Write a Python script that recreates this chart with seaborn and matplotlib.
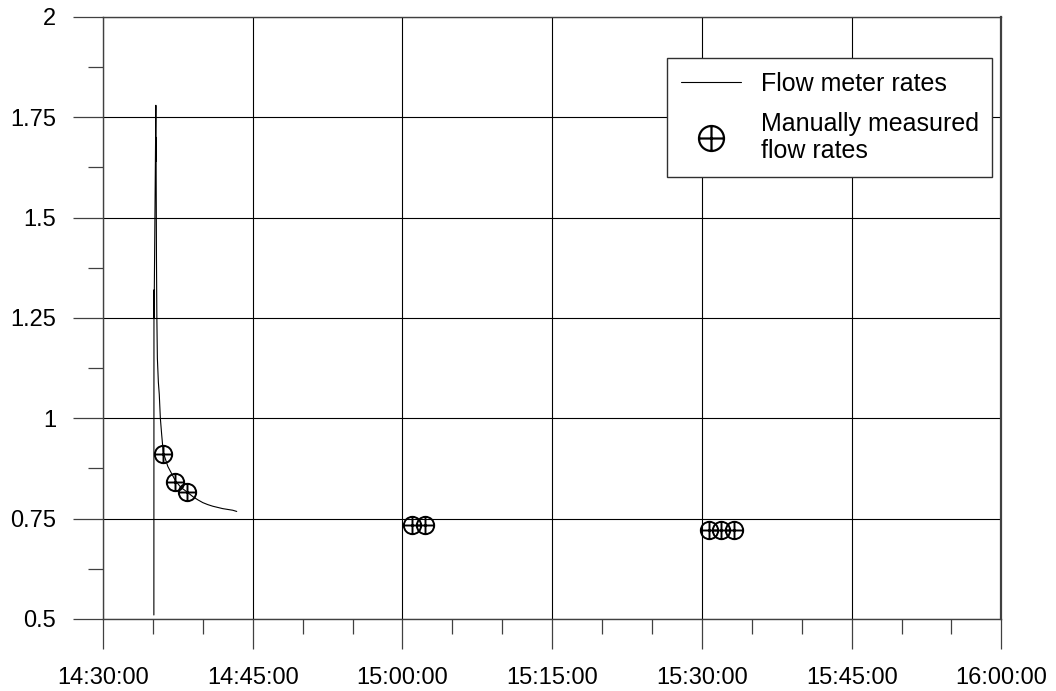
import matplotlib
matplotlib.use("Agg")
import matplotlib.pyplot as plt
import matplotlib.dates as mdates
from matplotlib.path import Path
from matplotlib.lines import Line2D
from matplotlib.ticker import MultipleLocator, FormatStrFormatter
import seaborn as sns
import pandas as pd

# Flow meter record: minutes after 14:30:00 and rate
meter_minutes = [5.10, 5.11, 5.12, 5.30, 5.31, 5.32, 5.33, 5.36, 5.40, 5.45,
                 5.55, 5.64, 5.75, 5.88, 6.04, 6.50, 7.25, 7.80, 8.40, 9.00,
                 9.50, 10.00, 10.50, 11.00, 11.50, 12.00, 12.50, 13.00, 13.40]
meter_rates = [0.51, 1.32, 1.25, 1.78, 1.64, 1.70, 1.60, 1.40, 1.25, 1.15,
               1.09, 1.06, 1.00, 0.96, 0.915, 0.88, 0.845, 0.828, 0.817, 0.805,
               0.797, 0.790, 0.785, 0.781, 0.778, 0.775, 0.773, 0.771, 0.768]

# Manual measurements
manual_minutes = [6.04, 7.25, 8.38, 30.96, 32.26, 60.7, 61.9, 63.2]
manual_rates = [0.911, 0.842, 0.817, 0.735, 0.735, 0.721, 0.721, 0.721]

BASE = pd.Timestamp("2000-01-01 14:30:00")
meter = pd.DataFrame({
    "time": BASE + pd.to_timedelta(meter_minutes, unit="min"),
    "rate": meter_rates,
})
manual = pd.DataFrame({
    "time": BASE + pd.to_timedelta(manual_minutes, unit="min"),
    "rate": manual_rates,
})

sns.set_theme(style="ticks")
plt.rcParams["font.family"] = ["Liberation Sans", "DejaVu Sans"]
plt.rcParams["text.color"] = "black"

# circle with a cross marker
oplus = Path.make_compound_path(
    Path.unit_circle(),
    Path([(-1, 0), (1, 0), (0, -1), (0, 1)],
         [Path.MOVETO, Path.LINETO, Path.MOVETO, Path.LINETO]),
)

fig = plt.figure(figsize=(10.56, 6.91), dpi=100)
ax = fig.add_axes([0.0975, 0.1042, 0.8508, 0.8712])

sns.lineplot(data=meter, x="time", y="rate", sort=False, estimator=None,
             color="black", linewidth=0.8, ax=ax)
ax.plot(manual["time"], manual["rate"], linestyle="none", marker=oplus,
        markersize=12.5, markerfacecolor="none", markeredgecolor="black",
        markeredgewidth=1.4)

ax.set_xlim(BASE, BASE + pd.Timedelta(minutes=90))
ax.set_ylim(0.5, 2)
ax.xaxis.set_major_locator(mdates.MinuteLocator(byminute=[0, 15, 30, 45]))
ax.xaxis.set_minor_locator(mdates.MinuteLocator(byminute=range(0, 60, 5)))
ax.xaxis.set_major_formatter(mdates.DateFormatter("%H:%M:%S"))
ax.yaxis.set_major_locator(MultipleLocator(0.25))
ax.yaxis.set_minor_locator(MultipleLocator(0.125))
ax.yaxis.set_major_formatter(FormatStrFormatter("%g"))

ax.grid(which="major", color="black", linewidth=0.8)
ax.set_xlabel("")
ax.set_ylabel("")
ax.tick_params(which="major", direction="out", length=21.6, width=0.9,
               color="#404040", labelsize=17, labelcolor="black")
ax.tick_params(axis="y", which="major", pad=12)
ax.tick_params(axis="x", which="major", pad=13)
ax.tick_params(which="minor", direction="out", length=10.8, width=0.9,
               color="#404040")
for side, sp in ax.spines.items():
    sp.set_visible(True)
    sp.set_color("#404040")
    sp.set_linewidth(1.0)
ax.spines["right"].set_linewidth(1.6)

handles = [
    Line2D([], [], color="black", linewidth=0.8),
    Line2D([], [], linestyle="none", marker=oplus, markersize=18,
           markerfacecolor="none", markeredgecolor="black", markeredgewidth=1.6),
]
leg = ax.legend(handles, ["Flow meter rates", "Manually measured\nflow rates"],
                loc="upper right", bbox_to_anchor=(0.99, 0.932),
                borderaxespad=0, fontsize=18, handlelength=2.4,
                fancybox=False, framealpha=1, edgecolor="#303030",
                borderpad=0.55, labelspacing=0.65)
leg.get_frame().set_linewidth(1.0)
for t in leg.get_texts():
    t.set_color("black")
    t.set_linespacing(1.15)

fig.savefig("out.png", dpi=100)
